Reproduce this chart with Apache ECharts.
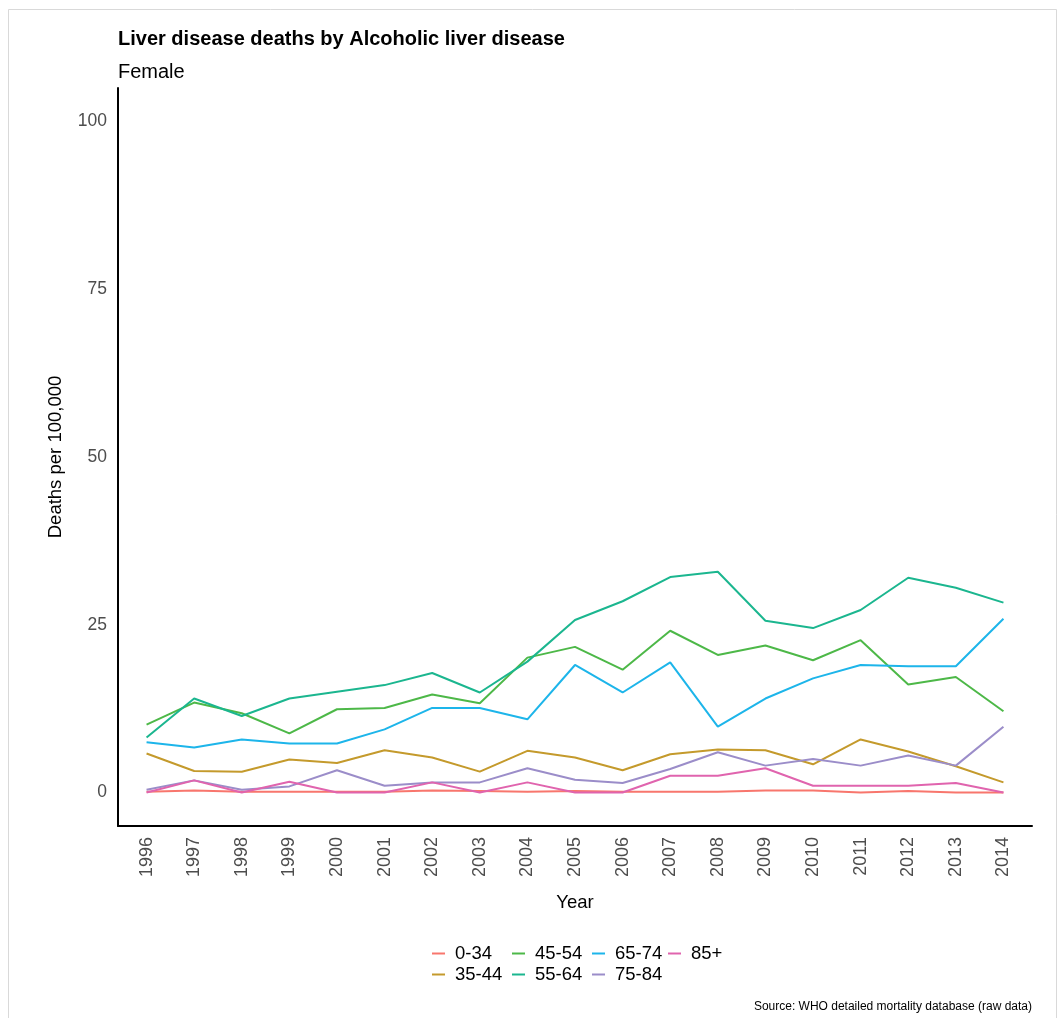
<!DOCTYPE html>
<html>
<head>
<meta charset="utf-8">
<script src="https://cdn.jsdelivr.net/npm/echarts@6/dist/echarts.min.js"></script>
<style>
html,body{margin:0;padding:0;background:#fff;}
#chart{width:1060px;height:1018px;}
</style>
</head>
<body>
<div id="chart"></div>
<script>
const years = [1996,1997,1998,1999,2000,2001,2002,2003,2004,2005,2006,2007,2008,2009,2010,2011,2012,2013,2014];
const yTicks = [0,25,50,75,100];
const groups = ['0-34','35-44','45-54','55-64','65-74','75-84','85+'];
const v0_34  = [0.1,0.3,0.1,0.1,0.1,0.1,0.3,0.2,0.1,0.2,0.1,0.1,0.1,0.3,0.3,0.0,0.2,0.0,0.0];
const v35_44 = [5.8,3.2,3.1,4.9,4.4,6.3,5.2,3.1,6.2,5.2,3.3,5.7,6.4,6.3,4.2,7.9,6.1,3.9,1.5];
const v45_54 = [10.1,13.4,11.8,8.8,12.4,12.6,14.6,13.3,20.1,21.7,18.3,24.1,20.5,21.9,19.7,22.7,16.1,17.2,12.1];
const v55_64 = [8.2,14.0,11.4,14.0,15.0,16.0,17.8,14.9,19.5,25.7,28.5,32.1,32.9,25.6,24.5,27.2,32.0,30.5,28.3];
const v65_74 = [7.5,6.7,7.9,7.3,7.3,9.4,12.6,12.6,10.9,19.0,14.9,19.4,9.8,14.0,17.0,19.0,18.8,18.8,25.9];
const v75_84 = [0.4,1.8,0.4,0.9,3.3,1.0,1.5,1.5,3.6,1.9,1.4,3.5,6.0,4.0,5.0,4.0,5.5,4.0,9.8];
const v85p   = [0.0,1.8,0.0,1.6,0.0,0.0,1.5,0.0,1.5,0.0,0.0,2.5,2.5,3.6,1.0,1.0,1.0,1.4,0.0];
const values = [v0_34,v35_44,v45_54,v55_64,v65_74,v75_84,v85p];
const colors = ['#F8766D','#C49A2C','#4DB848','#1BB68F','#1DB5EA','#9B8DC9','#E064AE'];

const FONT = 'Liberation Sans, Arial, sans-serif';

const series = groups.map((g,i)=>({
  name: g,
  type: 'line',
  data: years.map((y,j)=>[y, values[i][j]]),
  symbol: 'none',
  showSymbol: false,
  lineStyle: {width: 2, color: colors[i]},
  itemStyle: {color: colors[i]},
  color: colors[i],
  animation: false,
  z: 2
}));

function legendCol(items, left){
  return {
    data: items,
    orient: 'vertical',
    left: left,
    top: 944,
    itemGap: 2,
    itemWidth: 13,
    itemHeight: 2,
    icon: 'rect',
    padding: 0,
    selectedMode: false,
    textStyle: {fontSize: 18.5, color: '#000', fontFamily: FONT, lineHeight: 18, padding: [0,0,0,5]}
  };
}

const chart = echarts.init(document.getElementById('chart'), null, {renderer: 'canvas'});
chart.setOption({
  backgroundColor: '#fff',
  animation: false,
  color: colors,
  title: [
    {text: 'Liver disease deaths by Alcoholic liver disease', left: 118, top: 29, padding: 0,
     textStyle: {fontSize: 20, fontWeight: 'bold', color: '#000', fontFamily: FONT}},
    {text: 'Female', left: 118, top: 62, padding: 0,
     textStyle: {fontSize: 20, fontWeight: 'normal', color: '#000', fontFamily: FONT}},
    {text: 'Source: WHO detailed mortality database (raw data)', right: 28, top: 1001, padding: 0,
     textStyle: {fontSize: 12, fontWeight: 'normal', color: '#000', fontFamily: FONT}}
  ],
  legend: [
    legendCol(['0-34','35-44'], 432),
    legendCol(['45-54','55-64'], 512),
    legendCol(['65-74','75-84'], 592),
    legendCol(['85+'], 668)
  ],
  grid: {left: 118, right: 28, top: 88, bottom: 192, containLabel: false},
  xAxis: {
    type: 'value',
    min: 1995.4,
    max: 2014.6,
    name: 'Year',
    nameLocation: 'middle',
    nameGap: 67,
    nameTextStyle: {fontSize: 18.5, color: '#000', fontFamily: FONT},
    axisLine: {show: true, onZero: false, lineStyle: {color: '#000', width: 2}},
    axisTick: {show: false},
    splitLine: {show: false},
    axisLabel: {
      customValues: years,
      rotate: 90,
      margin: 11,
      fontSize: 18,
      color: '#4D4D4D',
      fontFamily: FONT,
      formatter: v => String(v)
    }
  },
  yAxis: {
    type: 'value',
    min: -5,
    max: 105,
    name: 'Deaths per 100,000',
    nameLocation: 'middle',
    nameGap: 53,
    nameRotate: 90,
    nameTextStyle: {fontSize: 18.5, color: '#000', fontFamily: FONT},
    axisLine: {show: true, onZero: false, lineStyle: {color: '#000', width: 2}},
    axisTick: {show: false},
    splitLine: {show: false},
    axisLabel: {
      customValues: yTicks,
      margin: 11,
      fontSize: 17.5,
      color: '#4D4D4D',
      fontFamily: FONT
    }
  },
  graphic: [
    {type: 'rect', shape: {x: 8.5, y: 9.5, width: 1048, height: 1030}, style: {fill: 'none', stroke: '#D9D9D9', lineWidth: 1}, silent: true, z: -10}
  ],
  series: series
});
</script>
</body>
</html>
